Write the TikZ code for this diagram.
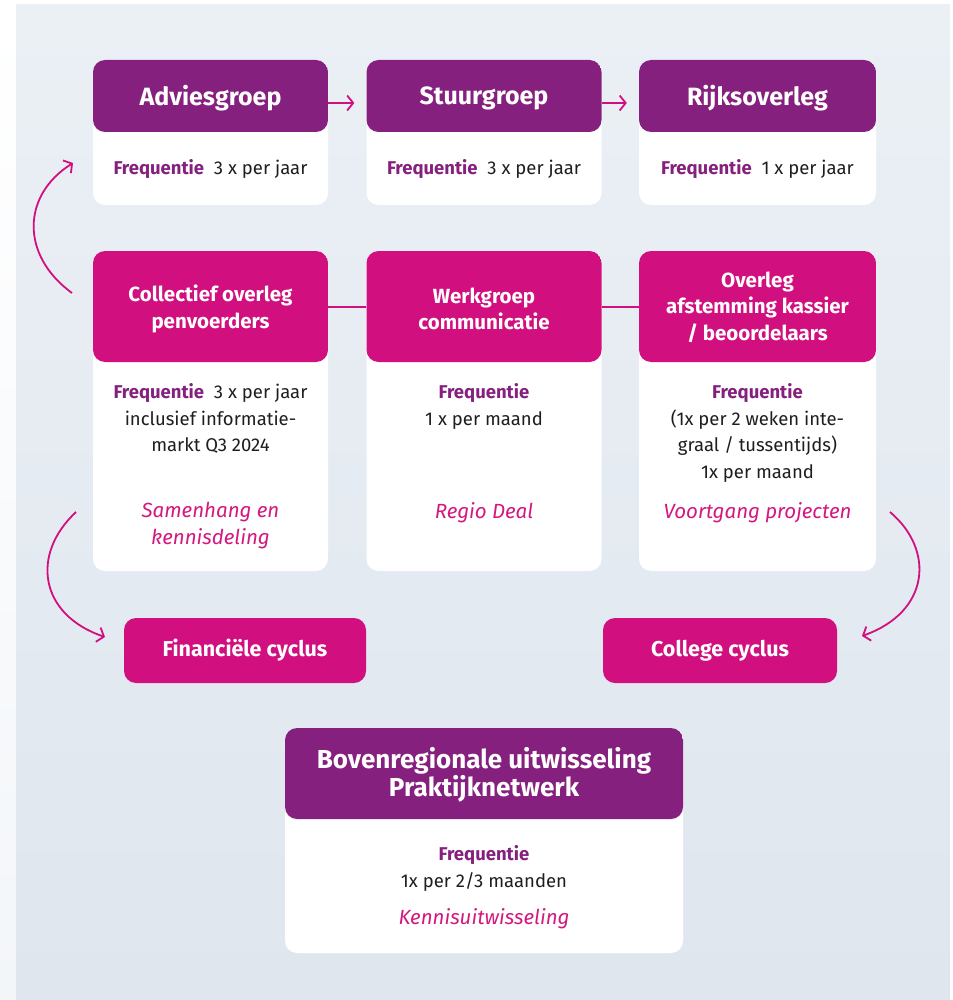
\documentclass[tikz,border=0pt]{standalone}
\usepackage{fontspec}
\setmainfont{Fira Sans}
\usetikzlibrary{arrows.meta,calc}
\definecolor{hpurple}{HTML}{86207F}
\definecolor{hmagenta}{HTML}{D10F7F}
\definecolor{itmag}{HTML}{D3187F}
\definecolor{bgtop}{HTML}{EBF0F5}
\definecolor{bgbot}{HTML}{DFE6EE}
\definecolor{txt}{HTML}{1E1E1E}
\tikzset{
  card/.style={draw=none, fill=white, rounded corners=12pt, inner sep=0pt},
  hdr/.style 2 args={path picture={\fill[#1] (path picture bounding box.north west) rectangle ([yshift=-#2]path picture bounding box.north east);}},
  pill/.style={fill=hmagenta, rounded corners=12pt, inner sep=0pt, text=white, font=\fontsize{21.5}{24}\selectfont\bfseries},
  title/.style={text=white, align=center, font=\fontsize{25}{27}\selectfont\bfseries},
  title2/.style={text=white, align=center, font=\fontsize{20.5}{26.5}\selectfont\bfseries},
  body/.style={text=txt, align=center, font=\fontsize{18.5}{26.5}\selectfont},
  ital/.style={text=itmag, align=center, font=\fontsize{20.5}{27}\selectfont\itshape},
  arr/.style={draw=hmagenta, line width=1.8pt, -{Straight Barb[length=6pt,width=15pt,line width=1.8pt]}},
  lnk/.style={draw=hmagenta, line width=1.8pt},
}
\newcommand{\fq}{\textcolor{hpurple}{\bfseries Frequentie}}
\begin{document}
\begin{tikzpicture}[x=1pt,y=-1pt]
\useasboundingbox (0,0) rectangle (952,1000);
\fill[white] (0,0) rectangle (952,1000);
\shade[top color=white, bottom color=bgtop!60] (0,0) rectangle (16,1000);
\shade[top color=bgtop, bottom color=bgbot] (16,5) rectangle (950,1000);

% row 1
\node[card, hdr={hpurple}{72pt}, minimum width=235pt, minimum height=145pt] (adv) at (210.5,132.5) {};
\node[card, hdr={hpurple}{72pt}, minimum width=235pt, minimum height=145pt] (stu) at (484,132.5) {};
\node[card, hdr={hpurple}{72pt}, minimum width=237pt, minimum height=145pt] (rijk) at (757.5,132.5) {};
\node[title] (advt) at (210.5,98) {Adviesgroep};
\node[title] (stut) at (484,98) {Stuurgroep};
\node[title] (rijkt) at (757.5,98) {Rijksoverleg};
\node[body] (advf) at (210.5,169) {\fq\ \ 3 x per jaar};
\node[body] (stuf) at (484,169) {\fq\ \ 3 x per jaar};
\node[body] (rijkf) at (757.5,169) {\fq\ \ 1 x per jaar};

% row 2
\node[card, hdr={hmagenta}{111pt}, minimum width=235pt, minimum height=320pt] (col) at (210.5,411) {};
\node[card, hdr={hmagenta}{111pt}, minimum width=235pt, minimum height=320pt] (wer) at (484,411) {};
\node[card, hdr={hmagenta}{111pt}, minimum width=237pt, minimum height=320pt] (ovl) at (757.5,411) {};
\node[title2] (colt) at (210.5,309) {Collectief overleg\\penvoerders};
\node[title2] (wert) at (484,309) {Werkgroep\\communicatie};
\node[title2] (ovlt) at (757.5,307) {Overleg\\afstemming kassier\\/ beoordelaars};
\node[body, anchor=north] (colf) at (210.5,380) {\fq\ \ 3 x per jaar\\inclusief informatie-\\markt Q3 2024};
\node[body, anchor=north] (werf) at (484,380) {\fq\\1 x per maand};
\node[body, anchor=north] (ovlf) at (757.5,380) {\fq\\(1x per 2 weken inte-\\graal / tussentijds)\\1x per maand};
\node[ital, anchor=north] (coli) at (210.5,499) {Samenhang en\\kennisdeling};
\node[ital, anchor=north] (weri) at (484,499) {Regio Deal};
\node[ital, anchor=north] (ovli) at (757.5,499) {Voortgang projecten};

% row 3
\node[pill, minimum width=242pt, minimum height=65pt] (fin) at (245,650.5) {Financiële cyclus};
\node[pill, minimum width=234pt, minimum height=65pt] (cyc) at (720,650.5) {College cyclus};

% bottom
\node[card, hdr={hpurple}{91pt}, minimum width=398pt, minimum height=225pt] (bov) at (484,840.5) {};
\node[title, font=\fontsize{26}{27.5}\selectfont\bfseries] (bovt) at (484,775) {Bovenregionale uitwisseling\\Praktijknetwerk};
\node[body, anchor=north] (bovf) at (484,842) {\fq\\1x per 2/3 maanden};
\node[ital] (bovi) at (484,919) {Kennisuitwisseling};

% connectors
\coordinate (a1) at ($(adv.east)+(0,-29.5)$);
\coordinate (a2) at ($(stu.west)+(-12,-29.5)$);
\draw[arr] (a1) -- (a2);
\coordinate (b1) at ($(stu.east)+(0,-29.5)$);
\coordinate (b2) at ($(rijk.west)+(-12,-29.5)$);
\draw[arr] (b1) -- (b2);
\coordinate (l1) at ($(col.east)+(0,-104)$);
\coordinate (l2) at ($(wer.west)+(0,-104)$);
\draw[lnk] (l1) -- (l2);
\coordinate (m1) at ($(wer.east)+(0,-104)$);
\coordinate (m2) at ($(ovl.west)+(0,-104)$);
\draw[lnk] (m1) -- (m2);

\coordinate (c1) at (72,293);
\coordinate (c2) at (73,163);
\draw[arr] (c1) .. controls (20,255) and (22,195) .. (c2);
\coordinate (d1) at (76,512);
\coordinate (d2) at (105,637);
\draw[arr] (d1) .. controls (30,555) and (40,615) .. (d2);
\coordinate (e1) at (890,512);
\coordinate (e2) at (862,636);
\draw[arr] (e1) .. controls (935,550) and (930,612) .. (e2);
\end{tikzpicture}
\end{document}
